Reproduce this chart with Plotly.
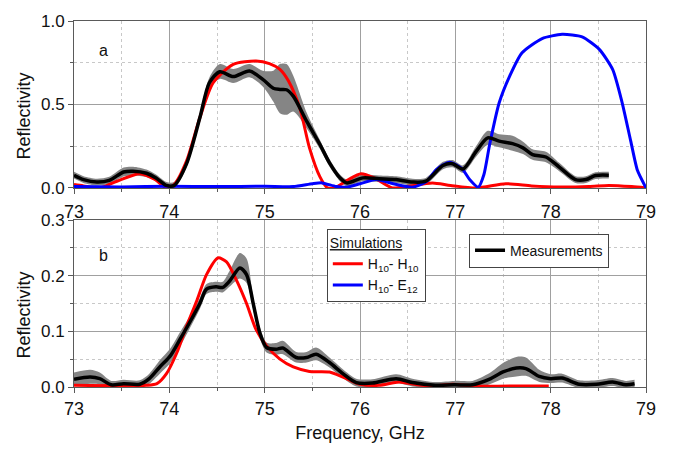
import plotly.graph_objects as go

# ---------------- Panel a data ----------------
a_sim_h_x = [73.0, 73.1, 73.27, 73.45, 73.69, 73.85, 73.97, 74.05, 74.18, 74.32, 74.46, 74.67,
             74.91, 75.05, 75.16, 75.25, 75.37, 75.47, 75.58, 75.66, 75.75, 75.88, 76.01, 76.15, 76.34,
             76.5, 76.76, 76.95, 77.22, 77.53, 77.8, 78.1, 78.4, 78.61, 78.85, 79.0]
a_sim_h_y = [0.02, 0.012, 0.0, 0.04, 0.085, 0.05, 0.0, 0.02, 0.16, 0.42, 0.63, 0.74,
             0.76, 0.745, 0.71, 0.64, 0.475, 0.24, 0.066, 0.0, 0.005, 0.05, 0.085, 0.06, 0.0,
             0.01, 0.03, 0.015, 0.0, 0.025, 0.012, 0.005, 0.008, 0.015, 0.008, 0.0]

a_sim_e_x = [73.0, 73.5, 74.0, 74.5, 75.0, 75.3, 75.5, 75.6, 75.75, 75.86, 76.0, 76.17, 76.35,
             76.55, 76.7, 76.8, 76.94, 77.07, 77.15, 77.24, 77.3, 77.36, 77.46, 77.57, 77.7,
             77.91, 78.12, 78.33, 78.51, 78.65, 78.75, 78.84, 78.91, 79.0]
a_sim_e_y = [0.008, 0.006, 0.01, 0.008, 0.01, 0.008, 0.025, 0.03, 0.008, 0.004, 0.025, 0.05, 0.025,
             0.004, 0.04, 0.11, 0.154, 0.115, 0.05, 0.004, 0.08, 0.26, 0.51, 0.67, 0.81,
             0.895, 0.92, 0.905, 0.83, 0.71, 0.51, 0.28, 0.105, 0.0]

a_meas_x = [73.0, 73.1, 73.24, 73.37, 73.52, 73.62, 73.76, 73.86, 73.97, 74.05, 74.18, 74.32,
            74.42, 74.53, 74.67, 74.84, 74.98, 75.09, 75.16, 75.23, 75.3, 75.44, 75.58, 75.68,
            75.79, 75.86, 76.03, 76.2, 76.38, 76.55, 76.69, 76.87, 76.97, 77.08, 77.22, 77.34,
            77.46, 77.6, 77.71, 77.81, 77.95, 78.09, 78.26, 78.37, 78.47, 78.61]
a_meas_y = [0.076, 0.05, 0.035, 0.045, 0.095, 0.1, 0.088, 0.06, 0.015, 0.015, 0.144, 0.42,
            0.63, 0.696, 0.667, 0.70, 0.65, 0.597, 0.59, 0.588, 0.55, 0.40, 0.26, 0.15,
            0.06, 0.03, 0.06, 0.055, 0.05, 0.035, 0.04, 0.134, 0.145, 0.113, 0.22, 0.30,
            0.28, 0.265, 0.24, 0.2, 0.185, 0.125, 0.05, 0.05, 0.074, 0.076]
a_meas_lo = [0.068, 0.042, 0.027, 0.035, 0.08, 0.085, 0.078, 0.052, 0.007, 0.007, 0.134, 0.41,
             0.61, 0.665, 0.64, 0.675, 0.62, 0.53, 0.46, 0.45, 0.47, 0.37, 0.245, 0.14,
             0.052, 0.022, 0.052, 0.047, 0.042, 0.027, 0.032, 0.124, 0.135, 0.103, 0.2, 0.27,
             0.255, 0.235, 0.215, 0.18, 0.165, 0.112, 0.042, 0.042, 0.066, 0.068]
a_meas_hi = [0.084, 0.058, 0.043, 0.055, 0.11, 0.115, 0.098, 0.068, 0.023, 0.023, 0.154, 0.43,
             0.65, 0.73, 0.70, 0.73, 0.69, 0.69, 0.73, 0.73, 0.66, 0.44, 0.275, 0.16,
             0.068, 0.038, 0.068, 0.063, 0.058, 0.043, 0.048, 0.144, 0.155, 0.123, 0.24, 0.33,
             0.31, 0.30, 0.265, 0.22, 0.205, 0.138, 0.058, 0.058, 0.082, 0.084]

# ---------------- Panel b data ----------------
b_sim_h_x = [73.0, 73.76, 73.87, 73.97, 74.08, 74.18, 74.29, 74.39, 74.51, 74.6, 74.71, 74.81,
             74.91, 75.02, 75.16, 75.3, 75.47, 75.68, 75.82, 76.0, 76.2, 76.41, 76.6, 76.79,
             76.97, 77.18, 77.98]
b_sim_h_y = [0.003, 0.003, 0.006, 0.024, 0.062, 0.109, 0.156, 0.202, 0.232, 0.225, 0.19, 0.15,
             0.103, 0.074, 0.05, 0.036, 0.028, 0.027, 0.018, 0.005, 0.003, 0.009, 0.004, 0.002,
             0.005, 0.002, 0.002]

b_meas_x = [73.0, 73.17, 73.27, 73.39, 73.52, 73.69, 73.79, 73.9, 74.01, 74.11, 74.21, 74.32,
            74.39, 74.49, 74.56, 74.63, 74.74, 74.81, 74.88, 74.95, 75.02, 75.12, 75.19, 75.33,
            75.44, 75.54, 75.68, 75.82, 75.96, 76.13, 76.38, 76.55, 76.79, 76.99, 77.18, 77.36,
            77.5, 77.64, 77.74, 77.88, 78.0, 78.12, 78.3, 78.48, 78.65, 78.79, 78.88]
b_meas_y = [0.014, 0.018, 0.015, 0.004, 0.006, 0.005, 0.015, 0.036, 0.056, 0.085, 0.115, 0.15,
            0.176, 0.18, 0.179, 0.19, 0.214, 0.202, 0.15, 0.097, 0.071, 0.068, 0.07, 0.053,
            0.053, 0.059, 0.044, 0.024, 0.008, 0.007, 0.015, 0.008, 0.003, 0.004, 0.004, 0.014,
            0.027, 0.034, 0.033, 0.019, 0.015, 0.016, 0.005, 0.005, 0.009, 0.004, 0.006]
b_meas_lo = [0.006, 0.009, 0.008, 0.0, 0.002, 0.001, 0.009, 0.027, 0.046, 0.075, 0.107, 0.143,
             0.17, 0.174, 0.173, 0.183, 0.198, 0.19, 0.142, 0.09, 0.065, 0.061, 0.062, 0.047,
             0.047, 0.051, 0.038, 0.019, 0.004, 0.003, 0.01, 0.004, 0.0, 0.0, 0.0, 0.008,
             0.018, 0.022, 0.023, 0.012, 0.01, 0.011, 0.001, 0.001, 0.005, 0.0, 0.002]
b_meas_hi = [0.023, 0.028, 0.023, 0.008, 0.01, 0.009, 0.021, 0.045, 0.066, 0.095, 0.123, 0.157,
             0.182, 0.186, 0.186, 0.205, 0.238, 0.228, 0.158, 0.104, 0.077, 0.076, 0.08, 0.06,
             0.06, 0.068, 0.05, 0.029, 0.012, 0.011, 0.02, 0.012, 0.006, 0.008, 0.008, 0.022,
             0.04, 0.051, 0.05, 0.028, 0.02, 0.021, 0.009, 0.009, 0.013, 0.008, 0.01]

x_ticks = [73, 74, 75, 76, 77, 78, 79]
a_yticks = [0.0, 0.5, 1.0]
b_yticks = [0.0, 0.1, 0.2, 0.3]

RED = "#ff0000"
BLUE = "#0000ff"
BAND = "#858585"
FONT = "Liberation Sans, Arial, sans-serif"

fig = go.Figure()


def add_band(x, lo, hi, xa, ya):
    fig.add_trace(go.Scatter(x=x, y=hi, mode="lines", line=dict(width=0, shape="spline", smoothing=0.8),
                             xaxis=xa, yaxis=ya, showlegend=False, hoverinfo="skip"))
    fig.add_trace(go.Scatter(x=x, y=lo, mode="lines", line=dict(width=0, shape="spline", smoothing=0.8),
                             fill="tonexty", fillcolor=BAND, xaxis=xa, yaxis=ya,
                             showlegend=False, hoverinfo="skip"))


# panel a
add_band(a_meas_x, [v - 0.012 for v in a_meas_lo], [v + 0.012 for v in a_meas_hi], "x", "y")
fig.add_trace(go.Scatter(x=a_sim_h_x, y=a_sim_h_y, mode="lines", name="H<sub>10</sub>- H<sub>10</sub>",
                         line=dict(color=RED, width=3, shape="spline", smoothing=0.7),
                         xaxis="x", yaxis="y", legend="legend"))
fig.add_trace(go.Scatter(x=a_sim_e_x, y=a_sim_e_y, mode="lines", name="H<sub>10</sub>- E<sub>12</sub>",
                         line=dict(color=BLUE, width=3, shape="spline", smoothing=0.6),
                         xaxis="x", yaxis="y", legend="legend"))
fig.add_trace(go.Scatter(x=a_meas_x, y=a_meas_y, mode="lines", name="Measurements",
                         line=dict(color="black", width=3.5, shape="spline", smoothing=0.8),
                         xaxis="x", yaxis="y", legend="legend2"))

# panel b
add_band(b_meas_x, [v - 0.003 for v in b_meas_lo], [v + 0.003 for v in b_meas_hi], "x2", "y2")
fig.add_trace(go.Scatter(x=b_sim_h_x, y=b_sim_h_y, mode="lines", showlegend=False,
                         line=dict(color=RED, width=3, shape="spline", smoothing=0.7),
                         xaxis="x2", yaxis="y2"))
fig.add_trace(go.Scatter(x=b_meas_x, y=b_meas_y, mode="lines", showlegend=False,
                         line=dict(color="black", width=3.5, shape="spline", smoothing=0.8),
                         xaxis="x2", yaxis="y2"))

grid_major = "#a0a0a0"
grid_minor = "#c8c8c8"
frame = "#5a5a5a"

xcommon = dict(range=[73, 79], tickvals=x_ticks, ticktext=[str(t) for t in x_ticks],
               showgrid=True, gridcolor=grid_major, gridwidth=1,
               showline=True, linecolor=frame, linewidth=1, mirror=True,
               ticks="outside", ticklen=5, tickcolor=frame, zeroline=False,
               tickfont=dict(family=FONT, size=18, color="#111"),
               minor=dict(dtick=0.5, tick0=73, showgrid=True, gridcolor=grid_minor,
                          griddash="dot", ticks="outside", ticklen=3, tickcolor=frame))
ycommon = dict(showgrid=True, gridcolor=grid_major, gridwidth=1,
               showline=True, linecolor=frame, linewidth=1, mirror=True,
               ticks="outside", ticklen=5, tickcolor=frame, zeroline=False,
               tickfont=dict(family=FONT, size=17, color="#111"))

fig.update_layout(
    width=674, height=451,
    margin=dict(l=74, r=28, t=17, b=59),
    paper_bgcolor="white", plot_bgcolor="white",
    font=dict(family=FONT, size=14, color="#111"),
    xaxis=dict(**xcommon, anchor="y", domain=[0, 1], ticklabelstandoff=3),
    yaxis=dict(**ycommon, anchor="x", domain=[0.544, 1], range=[0, 1.0],
               tickvals=a_yticks, ticktext=["0.0", "0.5", "1.0"],
               minor=dict(dtick=0.25, tick0=0, showgrid=True, gridcolor=grid_minor,
                          griddash="dot", ticks="outside", ticklen=3, tickcolor=frame)),
    xaxis2=dict(**xcommon, anchor="y2", domain=[0, 1],
                title=dict(text="Frequency, GHz", font=dict(family=FONT, size=18, color="#111"),
                           standoff=8)),
    yaxis2=dict(**ycommon, anchor="x2", domain=[0, 0.456], range=[0, 0.3],
                tickvals=b_yticks, ticktext=["0.0", "0.1", "0.2", "0.3"],
                minor=dict(dtick=0.05, tick0=0, showgrid=True, gridcolor=grid_minor,
                           griddash="dot", ticks="outside", ticklen=3, tickcolor=frame)),
    legend=dict(x=0.442, y=0.432, xanchor="left", yanchor="top", xref="paper", yref="paper",
                bgcolor="white", bordercolor="#444", borderwidth=1, traceorder="normal",
                font=dict(family=FONT, size=14, color="#111"),
                title=dict(text="<u>Simulations</u>", side="top",
                           font=dict(family=FONT, size=14, color="#111")),
                tracegroupgap=0, itemwidth=30),
    legend2=dict(x=0.6906, y=0.419, xanchor="left", yanchor="top", xref="paper", yref="paper",
                 bgcolor="white", bordercolor="#444", borderwidth=1, traceorder="normal",
                 font=dict(family=FONT, size=14, color="#111"), itemwidth=30),
    annotations=[
        dict(text="a", xref="x domain", yref="y domain", x=0.04, y=0.889, showarrow=False,
             font=dict(family=FONT, size=16, color="#111")),
        dict(text="b", xref="x2 domain", yref="y2 domain", x=0.04, y=0.85, showarrow=False,
             font=dict(family=FONT, size=16, color="#111")),
        dict(text="Reflectivity", xref="paper", yref="y domain", x=0, y=0.5, xshift=-50, yshift=-12,
             xanchor="center", yanchor="middle",
             textangle=-90, showarrow=False, font=dict(family=FONT, size=18, color="#111")),
        dict(text="Reflectivity", xref="paper", yref="y2 domain", x=0, y=0.5, xshift=-50, yshift=-12,
             xanchor="center", yanchor="middle",
             textangle=-90, showarrow=False, font=dict(family=FONT, size=18, color="#111")),
    ],
)

fig.write_html("out.html", config={"displayModeBar": False},
               post_script="document.body.style.margin='0';")
